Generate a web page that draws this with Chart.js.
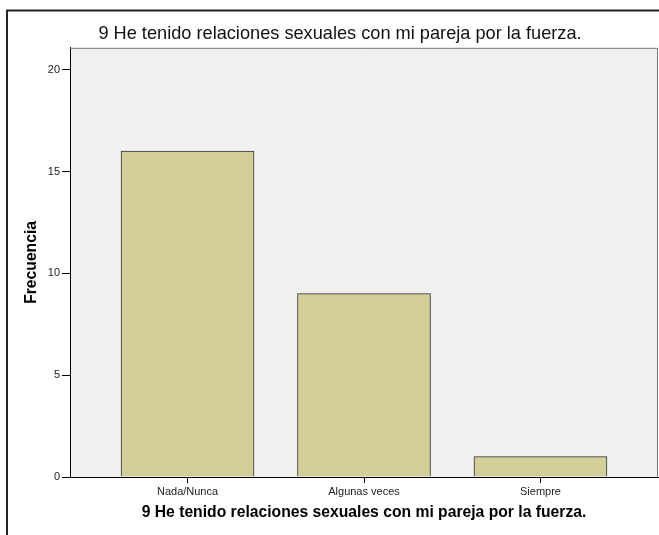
<!DOCTYPE html>
<html>
<head>
<meta charset="utf-8">
<title>Frecuencia - pregunta 9</title>
<script src="https://cdn.jsdelivr.net/npm/chart.js"></script>
<style>
    body { margin: 0; background: white; }
    .chart-container { width: 659px; height: 535px; position: relative; }
</style>
</head>
<body>
<div class="chart-container"><canvas id="grafica"></canvas></div>
<script>
// datos
const titulo = "9 He tenido relaciones sexuales con mi pareja por la fuerza.";
const categorias = ["Nada/Nunca", "Algunas veces", "Siempre"];
const frecuencias = [16, 9, 1];
const yTicks = [0, 5, 10, 15, 20];

const fuente = "Arial, 'Liberation Sans', sans-serif";

// marco exterior, fondo gris del area y bordes superior/derecho
const marco = {
    id: 'marco',
    beforeDraw(chart) {
        const { ctx, chartArea: a } = chart;
        ctx.save();
        ctx.fillStyle = '#f0f0f0';
        ctx.fillRect(a.left, a.top, a.right - a.left, a.bottom - a.top);
        ctx.strokeStyle = '#222';
        ctx.lineWidth = 2;
        ctx.beginPath();
        ctx.moveTo(7, chart.height);
        ctx.lineTo(7, 10.5);
        ctx.lineTo(chart.width, 10.5);
        ctx.stroke();
        ctx.restore();
    },
    afterDraw(chart) {
        const { ctx, chartArea: a } = chart;
        ctx.save();
        ctx.strokeStyle = '#777';
        ctx.lineWidth = 1;
        ctx.beginPath();
        ctx.moveTo(a.left, a.top + 0.5);
        ctx.lineTo(a.right - 0.5, a.top + 0.5);
        ctx.lineTo(a.right - 0.5, a.bottom);
        ctx.stroke();
        ctx.restore();
    }
};

new Chart(document.getElementById('grafica'), {
    type: 'bar',
    data: {
        datasets: [{
            data: frecuencias.map((v, i) => ({ x: i, y: v })),
            backgroundColor: '#d3ce97',
            borderColor: '#333',
            borderWidth: 1,
            barThickness: 133
        }]
    },
    options: {
        responsive: true,
        maintainAspectRatio: false,
        animation: false,
        layout: { padding: { left: 22, right: 1, top: 0, bottom: 0 } },
        plugins: {
            legend: { display: false },
            tooltip: { enabled: false },
            title: {
                display: true,
                text: titulo,
                color: '#111',
                font: { family: fuente, size: 18.2, weight: 'normal' },
                padding: { top: 23, bottom: 3 }
            }
        },
        scales: {
            x: {
                type: 'linear',
                offset: false,
                min: -0.666,
                max: 2.666,
                afterBuildTicks: s => { s.ticks = categorias.map((c, i) => ({ value: i })); },
                afterFit: s => { s.height = 58; },
                grid: { offset: false, drawOnChartArea: false, drawTicks: true, tickLength: 6, tickColor: '#000' },
                border: { display: true, color: '#000', width: 1 },
                ticks: {
                    color: '#222',
                    padding: 2,
                    maxRotation: 0,
                    font: { family: fuente, size: 11 },
                    callback: v => categorias[v]
                },
                title: {
                    display: true,
                    text: titulo,
                    color: '#000',
                    font: { family: fuente, size: 15.7, weight: 'bold' },
                    padding: { top: 0, bottom: 13 }
                }
            },
            y: {
                min: 0,
                max: 21.07,
                afterBuildTicks: s => { s.ticks = yTicks.map(v => ({ value: v })); },
                afterFit: s => { s.width = 48; },
                grid: { drawOnChartArea: false, drawTicks: true, tickLength: 8, tickColor: '#000' },
                border: { display: true, color: '#000', width: 1 },
                ticks: {
                    color: '#222',
                    padding: 2,
                    font: { family: fuente, size: 11 }
                },
                title: {
                    display: true,
                    text: 'Frecuencia',
                    color: '#000',
                    font: { family: fuente, size: 15.7, weight: 'bold' },
                    padding: 0
                }
            }
        }
    },
    plugins: [marco]
});
</script>
</body>
</html>
